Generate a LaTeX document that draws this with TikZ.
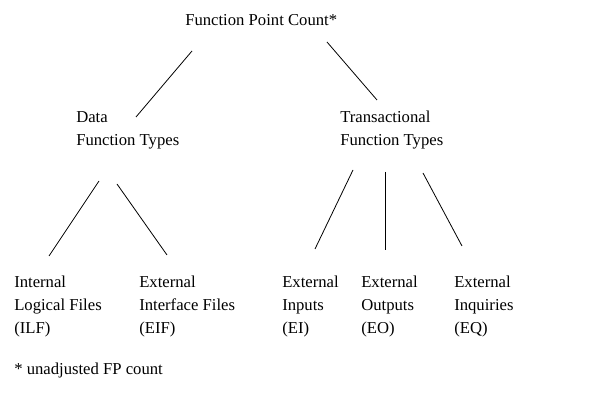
\documentclass[tikz,border=0pt]{standalone}
\usepackage{fontspec}
\setmainfont{Liberation Serif}
\usepackage{tikz}

\begin{document}
\begin{tikzpicture}[
  x=0.75pt, y=-0.75pt,
  lbl/.style={anchor=base west, inner sep=0pt, align=left, font=\fontsize{12.5}{17.25}\selectfont},
  edge/.style={line width=0.6pt}
]
\useasboundingbox (0,0) rectangle (608,395);

% labels sit on the baseline of their last line
\node[lbl] (root) at (185,26) {Function Point Count*};
\node[lbl] (data) at (76,146) {Data\\Function Types};
\node[lbl] (trans) at (340,146) {Transactional\\Function Types};
\node[lbl] (ilf) at (14,334) {Internal\\Logical Files\\(ILF)};
\node[lbl] (eif) at (139,334) {External\\Interface Files\\(EIF)};
\node[lbl] (ei) at (282,334) {External\\Inputs\\(EI)};
\node[lbl] (eo) at (361,334) {External\\Outputs\\(EO)};
\node[lbl] (eq) at (454,334) {External\\Inquiries\\(EQ)};
\node[lbl] (note) at (14,375) {* unadjusted FP count};

% branch ends, the lines stop short of the labels
\coordinate (root-l) at (192,51);
\coordinate (root-r) at (327,42);
\coordinate (data-t) at (136,117);
\coordinate (trans-t) at (377,100);
\coordinate (data-l) at (99,181);
\coordinate (data-r) at (117,184);
\coordinate (ilf-t) at (49,256);
\coordinate (eif-t) at (167,255);
\coordinate (trans-l) at (353,170);
\coordinate (trans-m) at (385,172);
\coordinate (trans-r) at (423,173);
\coordinate (ei-t) at (315,249);
\coordinate (eo-t) at (385,250);
\coordinate (eq-t) at (462,246);

\draw[edge] (root-l) -- (data-t);
\draw[edge] (root-r) -- (trans-t);
\draw[edge] (data-l) -- (ilf-t);
\draw[edge] (data-r) -- (eif-t);
\draw[edge] (trans-l) -- (ei-t);
\draw[edge] (trans-m) -- (eo-t);
\draw[edge] (trans-r) -- (eq-t);
\end{tikzpicture}
\end{document}
